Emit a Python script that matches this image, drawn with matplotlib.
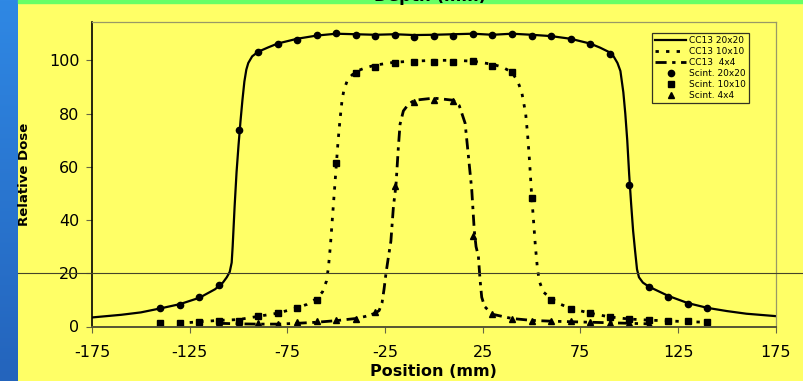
import numpy as np
import matplotlib
matplotlib.use("Agg")
import matplotlib.pyplot as plt
from matplotlib.patches import Rectangle

plt.rcParams["axes.unicode_minus"] = False

# CC13 ion chamber profiles (position mm, relative dose)
cc_20_x = [-175, -160, -150, -140, -130, -120, -112, -108, -106, -104.5, -103.5, -103, -102, -101,
           -100, -99, -98, -97, -96, -95, -93, -90, -85, -80, -70, -60, -50, -40, -30, -20, -10,
           0, 10, 20, 30, 40, 50, 60, 70, 80, 85, 90, 92, 94, 95.5, 97, 98, 99, 100, 101, 102,
           103, 104, 105, 107, 110, 120, 130, 140, 150, 160, 175]
cc_20_y = [3.4, 4.4, 5.3, 6.8, 8.4, 10.8, 14.0, 16.5, 18.5, 20.5, 24, 30, 45, 58,
           68, 77, 85, 92, 96.5, 99, 101.5, 103.2, 104.8, 106.3, 108.1, 109.3, 110.0, 109.8, 109.6, 109.8, 109.5,
           109.6, 109.8, 110.0, 109.6, 110.0, 109.6, 109.1, 108.1, 106.3, 104.8, 103, 101.5, 99, 96, 88, 80, 70, 57, 46, 36,
           28.5, 21.5, 18.5, 16.5, 15.0, 11.5, 8.8, 7.0, 5.8, 4.8, 3.9]

cc_10_x = [-125, -120, -110, -100, -95, -90, -80, -70, -65, -60, -57, -55, -54, -53, -52, -51, -50,
           -49, -48, -47, -46, -44, -40, -35, -30, -20, -10, 0, 10, 20, 30, 35, 40, 43, 45, 47, 48,
           49, 50, 51, 52, 53, 54, 56, 60, 65, 70, 80, 90, 100, 110, 120, 130, 140]
cc_10_y = [1.5, 1.8, 2.3, 2.6, 3.2, 3.8, 5.0, 7.0, 8.3, 10.5, 13, 17, 22, 30, 40, 50, 60,
           70, 78, 85, 89, 93, 95.8, 97.2, 98.2, 99.3, 99.7, 100, 100, 99.7, 98.5, 97.5, 95.5, 92, 88, 80, 72,
           62, 50, 40, 30, 22, 17, 13, 10.5, 8.3, 6.8, 5.0, 3.6, 2.8, 2.4, 2.1, 1.8, 1.6]

cc_4_x = [-110, -100, -90, -80, -70, -60, -50, -40, -35, -30, -28, -26.5, -25.5, -24.5, -23.2, -22,
          -20.7, -19.4, -18.2, -17.3, -15.6, -13, -10, 0, 10, 13, 16, 17.7, 19.4, 20.7, 21.6, 22.8,
          23.6, 24.5, 26, 28, 30, 40, 50, 60, 70, 80, 90, 100, 110]
cc_4_y = [1.2, 1.0, 0.9, 0.9, 1.2, 1.6, 2.2, 3.0, 3.8, 5.0, 6.0, 9, 14, 20, 26.4, 32,
          45, 53, 67, 76, 81, 83.5, 85, 85.8, 85, 83, 76.4, 64, 51.4, 36, 30, 26.4,
          18, 11, 7.5, 6.0, 4.6, 3.0, 2.3, 2.0, 1.8, 1.6, 1.4, 1.2, 1.0]

# scintillator measurements
sc_20_x = list(range(-140, 141, 10))
sc_20_y = [7.0, 8.2, 11.0, 15.7, 74.0, 103.0, 106.0, 107.6, 109.5, 110.1, 109.4, 109.2, 109.4, 108.7, 109.1,
           109.2, 109.8, 109.4, 109.8, 109.1, 109.0, 108.0, 106.0, 102.4, 53.0, 14.9, 11.0, 8.5, 7.0]

sc_10_x = list(range(-140, 141, 10))
sc_10_y = [1.4, 1.4, 1.8, 2.2, 2.2, 3.9, 5.1, 7.0, 10.1, 61.5, 95.4, 97.6, 98.9, 99.5, 99.4,
           99.3, 99.8, 98.0, 95.5, 48.4, 10.1, 6.7, 5.1, 3.6, 2.9, 2.5, 2.1, 2.1, 1.8]

sc_4_x = list(range(-110, 111, 10))
sc_4_y = [1.5, 1.4, 1.4, 1.0, 1.8, 2.0, 2.6, 3.0, 5.4, 52.6, 84.5, 85.1, 84.7, 33.9,
          4.8, 3.0, 2.2, 2.0, 2.0, 1.8, 1.4, 1.2, 1.0]

xticks = [-175, -125, -75, -25, 25, 75, 125, 175]
yticks = [0, 20, 40, 60, 80, 100]

W, H = 804, 381
yellow = "#FFFF66"

fig = plt.figure(figsize=(W / 100, H / 100), dpi=100, facecolor=yellow)

# blue bar on the left and green strip on top
side = fig.add_axes([0, 0, 18 / W, 1])
grad = np.linspace(0, 1, 256).reshape(-1, 1)
side.imshow(grad, aspect="auto", cmap=matplotlib.colors.LinearSegmentedColormap.from_list(
    "sb", ["#2F88E4", "#2464BC"]), extent=[0, 1, 0, 1], origin="upper")
side.axis("off")
fig.add_artist(Rectangle((18 / W, 1 - 3 / H), 1, 3 / H, transform=fig.transFigure,
                         color="#66FF66", zorder=1))
# axis title from the slide above, only its lower edge shows
fig.text(430 / W, 1 - 0.6 / H, "Depth (mm)", ha="center", va="baseline",
         fontsize=12, fontweight="bold", zorder=2)

ax = fig.add_axes([92 / W, 1 - 326.5 / H, 683.7 / W, (326.5 - 22) / H], facecolor=yellow)

ax.plot(cc_20_x, cc_20_y, color="black", lw=1.6, label="CC13 20x20")
ax.plot(cc_10_x, cc_10_y, color="black", lw=2.0, linestyle=(0, (1.2, 2.6)), label="CC13 10x10")
ax.plot(cc_4_x, cc_4_y, color="black", lw=2.0, linestyle=(0, (4, 2, 1.2, 2)), label="CC13  4x4")
ax.plot(sc_20_x, sc_20_y, "o", color="black", ms=4.5, label="Scint. 20x20")
ax.plot(sc_10_x, sc_10_y, "s", color="black", ms=4.8, label="Scint. 10x10")
ax.plot(sc_4_x, sc_4_y, "^", color="black", ms=5, label="Scint. 4x4")

ax.set_xlim(-175, 175)
ax.set_ylim(0, 114.4)
ax.set_xticks(xticks)
ax.set_yticks(yticks)
ax.tick_params(labelsize=11.5, length=4, width=0.8, color="#666644")
ax.tick_params(axis="x", pad=9)
ax.tick_params(axis="y", pad=5)
ax.set_xlabel("Position (mm)", fontsize=11.5, fontweight="bold", labelpad=3)
ax.set_ylabel("Relative Dose", fontsize=9.5, fontweight="bold", labelpad=13)

ax.spines["left"].set_color("black")
ax.spines["left"].set_linewidth(1.2)
ax.spines["bottom"].set_color("#555533")
ax.spines["bottom"].set_linewidth(1.4)
for s in ("top", "right"):
    ax.spines[s].set_color("#999966")
    ax.spines[s].set_linewidth(0.9)

# reference line at 20 % running across the slide
ax.axhline(20, xmin=(18 - 92) / 683.7, xmax=(W - 92) / 683.7, color="#44442a",
           lw=0.8, clip_on=False, zorder=5)

leg = ax.legend(loc="upper left", bbox_to_anchor=(652 / W, 1 - 33 / H),
                bbox_transform=fig.transFigure, borderaxespad=0, fontsize=6.5,
                frameon=True, fancybox=False, edgecolor="#333322", facecolor=yellow,
                framealpha=1, handlelength=3.4, labelspacing=0.22, borderpad=0.35,
                handletextpad=0.3)
leg.get_frame().set_linewidth(0.9)

fig.savefig("out.png", dpi=100, facecolor=yellow)
